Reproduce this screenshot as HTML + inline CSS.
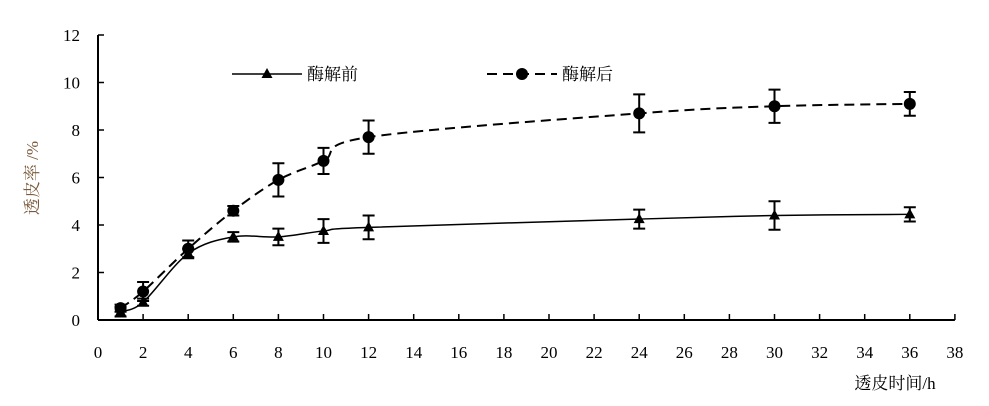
<!DOCTYPE html>
<html><head><meta charset="utf-8"><style>
body{margin:0;background:#fff;}
svg text{font-family:"Liberation Serif","Noto Serif CJK SC",serif;}
</style></head><body>
<svg id="c" width="989" height="401"></svg>
<script>
const xs=[1,2,4,6,8,10,12,24,30,36];
const before=[0.35,0.75,2.8,3.5,3.5,3.75,3.9,4.25,4.4,4.45];
const beforeErr=[0.2,0.15,0.2,0.2,0.35,0.5,0.5,0.4,0.6,0.3];
const after=[0.5,1.2,3.0,4.6,5.9,6.7,7.7,8.7,9.0,9.1];
const afterErr=[0.15,0.4,0.35,0.2,0.7,0.55,0.7,0.8,0.7,0.5];
const xTicks=[0,2,4,6,8,10,12,14,16,18,20,22,24,26,28,30,32,34,36,38];
const yTicks=[0,2,4,6,8,10,12];
const X=v=>98+22.55*v, Y=v=>320-23.75*v;
const s=document.getElementById('c'),NS='http://www.w3.org/2000/svg';
function el(t,a,p){const e=document.createElementNS(NS,t);for(const k in a)e.setAttribute(k,a[k]);(p||s).appendChild(e);return e;}
let e;
e=el('line',{x1:98,y1:Y(0),x2:X(38),y2:Y(0),stroke:'#000','stroke-width':2});


e=el('line',{x1:98,y1:Y(12),x2:98,y2:Y(0),stroke:'#000','stroke-width':2});


xTicks.forEach(v=>{
 el('line',{x1:X(v),y1:Y(0),x2:X(v),y2:Y(0)-6,stroke:'#000','stroke-width':1.5});
 e=el('text',{x:X(v),y:358,'text-anchor':'middle','font-size':17});e.textContent=v;
 
 
});
yTicks.forEach(v=>{
 el('line',{x1:98,y1:Y(v),x2:104,y2:Y(v),stroke:'#000','stroke-width':1.5});
 e=el('text',{x:80,y:Y(v)+6,'text-anchor':'end','font-size':17});e.textContent=v;
 
 
});
e=el('text',{x:0,y:0,'font-size':17,fill:'#7a5a3a',transform:'translate(38,178) rotate(-90)','text-anchor':'middle'});e.textContent='透皮率 /%';


e=el('text',{x:895,y:389,'font-size':17,'text-anchor':'middle'});e.textContent='透皮时间/h';


function smooth(vals){const p=xs.map((x,i)=>[X(x),Y(vals[i])]);let d='M'+p[0];for(let i=0;i<p.length-1;i++){const a=p[i-1]||p[i],b=p[i],c=p[i+1],q=p[i+2]||c;const c1=[b[0]+(c[0]-a[0])/6,b[1]+(c[1]-a[1])/6],c2=[c[0]-(q[0]-b[0])/6,c[1]-(q[1]-b[1])/6];d+='C'+c1+' '+c2+' '+c;}return d;}
function series(vals,err,dash,marker,name){
 e=el('path',{d:smooth(vals),fill:'none',stroke:'#000','stroke-width':dash?2:1.5,'stroke-dasharray':dash?'10 6':'none'});
 
 
 xs.forEach((x,i)=>{const cx=X(x),t=Y(vals[i]+err[i]),b=Y(vals[i]-err[i]);
  el('path',{d:`M${cx},${t}V${b}M${cx-6},${t}H${cx+6}M${cx-6},${b}H${cx+6}`,stroke:'#000','stroke-width':2,fill:'none'});
  const cy=Y(vals[i]);
  if(marker==='c')e=el('circle',{cx,cy,r:6,fill:'#000'});
  else e=el('path',{d:`M${cx},${cy-6}L${cx+5.5},${cy+4}L${cx-5.5},${cy+4}Z`,fill:'#000'});
  
  
 });
}
series(before,beforeErr,false,'t','before');
series(after,afterErr,true,'c','after');
e=el('g',{});
el('line',{x1:232,y1:74,x2:302,y2:74,stroke:'#000','stroke-width':1.5},e);
el('path',{d:'M267,68L272.5,78L261.5,78Z',fill:'#000'},e);
el('text',{x:307,y:80,'font-size':17},e).textContent='酶解前';
e=el('g',{});
el('line',{x1:487,y1:74,x2:557,y2:74,stroke:'#000','stroke-width':2,'stroke-dasharray':'10 6'},e);
el('circle',{cx:522,cy:74,r:6,fill:'#000'},e);
el('text',{x:562,y:80,'font-size':17},e).textContent='酶解后';
</script>
</body></html>
